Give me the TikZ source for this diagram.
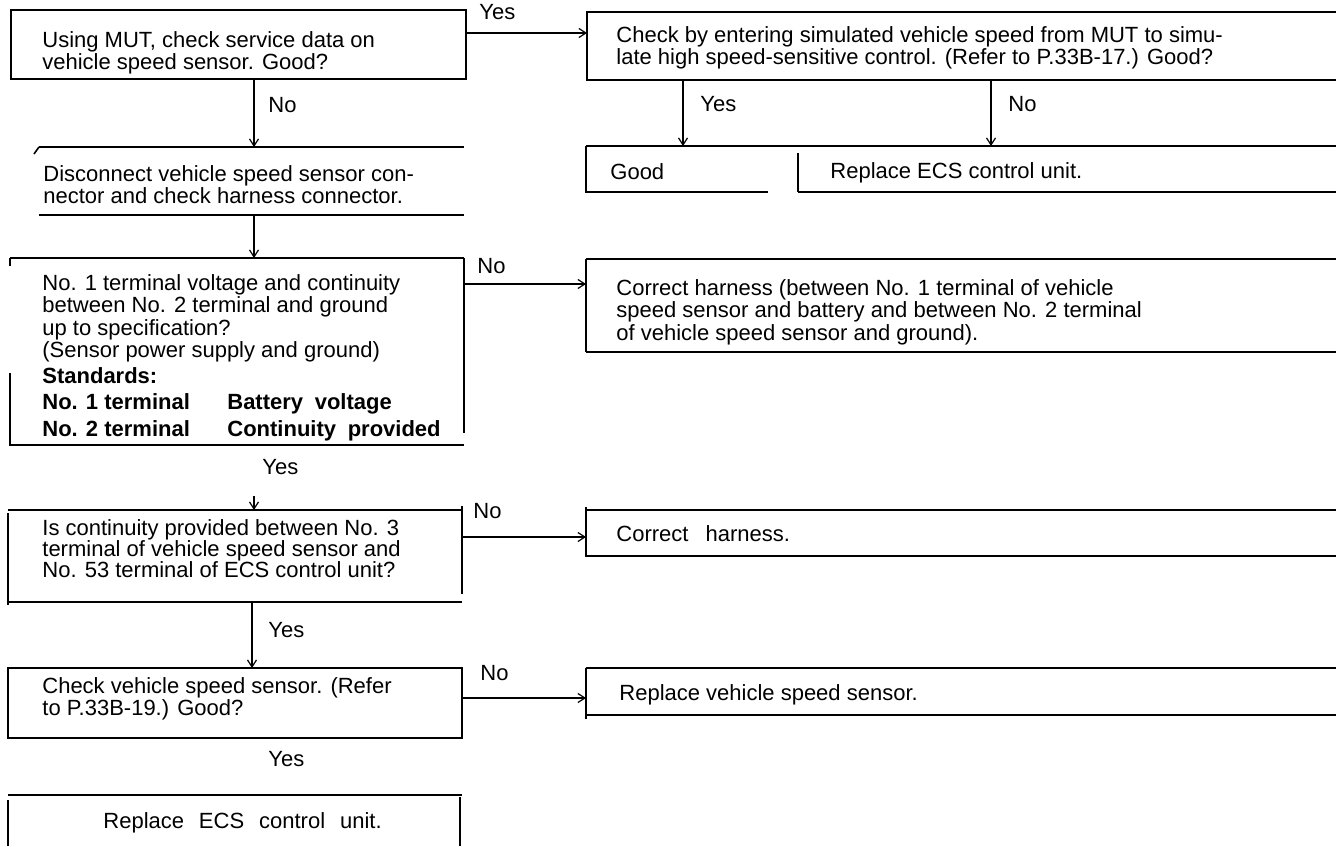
\documentclass[tikz,border=0pt]{standalone}
\usepackage{fontspec}
\setmainfont{Liberation Sans}
\usetikzlibrary{arrows.meta,fit}
\begin{document}
\begin{tikzpicture}[x=0.5pt,y=-0.5pt,
  boxline/.style={line width=1.1pt},
  sideline/.style={line width=0.8pt},
  conn/.style={line width=0.6pt,-{Straight Barb[length=3.5pt,width=4.5pt]}},
  txt/.style={anchor=north west,inner sep=0pt,align=left,font=\fontsize{11}{10}\selectfont},
  tighttxt/.style={txt,font=\fontsize{11}{9.4}\selectfont},
  lbl/.style={anchor=north west,inner sep=0pt,font=\fontsize{11}{10}\selectfont},
  area/.style={inner sep=0pt,outer sep=0pt}]
\useasboundingbox[fill=white] (0,0) rectangle (1336,846);

% ---------- box areas ----------
\node[area,fit={(11,10) (466,79)}] (b1) {};
\node[area,fit={(587,12) (1336,80)}] (b2) {};
\node[area,fit={(586,146) (768,192)}] (good) {};
\node[area,fit={(798,146) (1336,192)}] (rep1) {};
\node[area,fit={(39,147) (464,215)}] (disc) {};
\node[area,fit={(10,258) (464,445)}] (b3) {};
\node[area,fit={(586,259) (1336,352)}] (cor1) {};
\node[area,fit={(8,510) (462,602)}] (b4) {};
\node[area,fit={(586,510) (1336,556)}] (cor2) {};
\node[area,fit={(8,668) (462,738)}] (b5) {};
\node[area,fit={(586,668) (1336,715)}] (rep2) {};
\node[area,fit={(8,795) (462,846)}] (b6) {};

% ---------- borders ----------
\draw[boxline] (b1.north west) rectangle (b1.south east);
\draw[boxline] (b2.north east) -- (b2.north west) -- (b2.south west) -- (b2.south east);
\draw[boxline] (good.north west) -- (rep1.north east);
\draw[boxline] (good.north west) -- (good.south west) -- (good.south east);
\draw[sideline] (rep1.west |- 0,153) -- (rep1.south west);
\draw[boxline] (rep1.south west) -- (rep1.south east);
\draw[boxline] (disc.north west) -- (disc.north east);
\draw[sideline] (disc.north west) -- (34,154);
\draw[boxline] (disc.south west) -- (disc.south east);
\draw[boxline] (b3.north west) -- (b3.north east);
\draw[sideline] (b3.north east) -- (b3.east |- 0,433);
\draw[sideline] (b3.north west) -- (b3.west |- 0,266);
\draw[boxline] (b3.west |- 0,373) -- (b3.south west) -- (b3.south east);
\draw[boxline] (cor1.north east) -- (cor1.north west);
\draw[sideline] (cor1.north west) -- (cor1.south west);
\draw[boxline] (cor1.south west) -- (cor1.south east);
\draw[boxline] (b4.north west) -- (b4.north east);
\draw[sideline] (b4.east |- 0,506) -- (b4.east |- 0,594);
\draw[boxline] (b4.west |- 0,513) -- (b4.west |- 0,605);
\draw[boxline] (b4.south west) -- (b4.south east);
\draw[boxline] (cor2.north east) -- (cor2.north west);
\draw[sideline] (cor2.west |- 0,507) -- (cor2.west |- 0,557);
\draw[boxline] (cor2.south west) -- (cor2.south east);
\draw[boxline] (b5.north west) rectangle (b5.south east);
\draw[boxline] (rep2.north east) -- (rep2.north west);
\draw[sideline] (rep2.north west) -- (rep2.west |- 0,719);
\draw[boxline] (rep2.south west) -- (rep2.south east);
\draw[boxline] (b6.north west) -- (b6.north east);
\draw[sideline] (b6.west |- 0,800) -- (b6.south west);
\draw[sideline] (460,797) -- (460,846);

% ---------- texts ----------
\node[tighttxt] (t1) at (42,31) {Using MUT, check service data on\\vehicle speed sensor. Good?};
\node[tighttxt,font=\fontsize{11}{9}\selectfont] (t2) at (616,26) {Check by entering simulated vehicle speed from MUT to simu-\\late high speed-sensitive control. (Refer to P.33B-17.) Good?};
\node[lbl] (tg) at (610,163) {Good};
\node[lbl] (tr1) at (830,162) {Replace ECS control unit.};
\node[txt] (td) at (43,165) {Disconnect vehicle speed sensor con-\\nector and check harness connector.};
\node[txt] (t3) at (42,274) {No. 1 terminal voltage and continuity\\between No. 2 terminal and ground\\up to specification?\\(Sensor power supply and ground)\\[1.5pt]\textbf{Standards:}\\[3pt]\textbf{\makebox[92.5pt][l]{No. 1 terminal}Battery\hspace{.25em} voltage}\\[2.5pt]\textbf{\makebox[92.5pt][l]{No. 2 terminal}Continuity\hspace{.25em} provided}};
\node[tighttxt,font=\fontsize{11}{9.25}\selectfont] (tc1) at (616,279) {Correct harness (between No. 1 terminal of vehicle\\speed sensor and battery and between No. 2 terminal\\of vehicle speed sensor and ground).};
\node[txt,font=\fontsize{11}{10.5}\selectfont] (t4) at (42,519) {Is continuity provided between No. 3\\terminal of vehicle speed sensor and\\No. 53 terminal of ECS control unit?};
\node[lbl] (tc2) at (616,525) {Correct\hspace{.5em} harness.};
\node[tighttxt,font=\fontsize{11}{9.5}\selectfont] (t5) at (42,677) {Check vehicle speed sensor. (Refer\\to P.33B-19.) Good?};
\node[lbl] (tr2) at (619,684) {Replace vehicle speed sensor.};
\node[lbl] (t6) at (103,812) {Replace\hspace{.4em} ECS\hspace{.4em} control\hspace{.4em} unit.};

% ---------- labels ----------
\node[lbl] (l1) at (479,4) {Yes};
\node[lbl] (l2) at (268,97) {No};
\node[lbl] (l3) at (700,96) {Yes};
\node[lbl] (l4) at (1008,96) {No};
\node[lbl] (l5) at (477,258) {No};
\node[lbl] (l6) at (262,459) {Yes};
\node[lbl] (l7) at (473,503) {No};
\node[lbl] (l8) at (268,622) {Yes};
\node[lbl] (l9) at (480,665) {No};
\node[lbl] (l10) at (268,751) {Yes};

% ---------- connectors ----------
\coordinate (r1) at (0,33);
\coordinate (r3) at (0,284);
\coordinate (r4) at (0,537);
\coordinate (r5) at (0,698);
\coordinate (cA) at (254,0);
\coordinate (cY) at (683,0);
\coordinate (cN) at (991,0);
\coordinate (cB) at (252,0);
\coordinate (ys3) at (254,496);
\draw[conn] (b1.east |- r1) -- (b2.west |- r1);
\draw[conn] (cA |- b1.south) -- (cA |- disc.north);
\draw[conn] (cY |- b2.south) -- (cY |- good.north);
\draw[conn] (cN |- b2.south) -- (cN |- rep1.north);
\draw[conn] (cA |- disc.south) -- (cA |- b3.north);
\draw[conn] (b3.east |- r3) -- (cor1.west |- r3);
\draw[conn] (ys3) -- (ys3 |- b4.north);
\draw[conn] (b4.east |- r4) -- (cor2.west |- r4);
\draw[conn] (cB |- b4.south) -- (cB |- b5.north);
\draw[conn] (b5.east |- r5) -- (rep2.west |- r5);
\end{tikzpicture}
\end{document}
